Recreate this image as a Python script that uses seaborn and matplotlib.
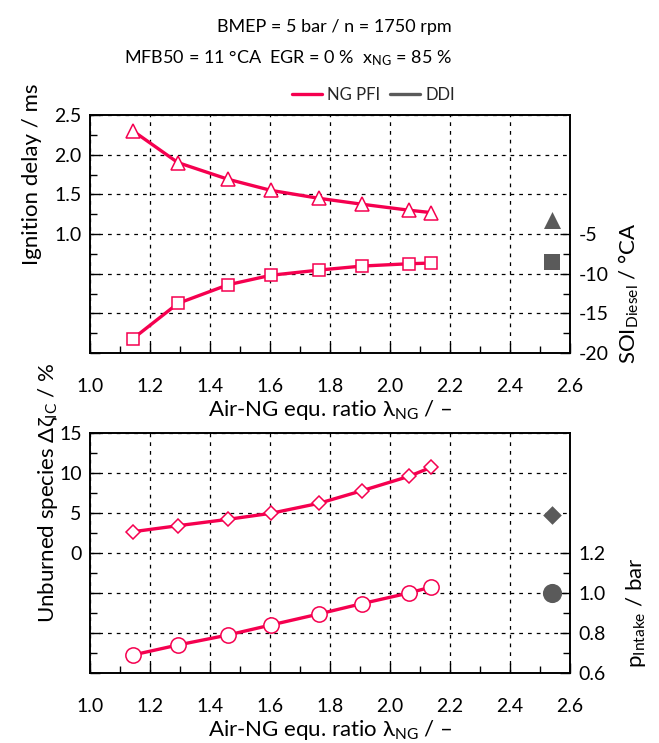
import numpy as np
import pandas as pd
import matplotlib
matplotlib.use("Agg")
import matplotlib.pyplot as plt
import seaborn as sns
from matplotlib.lines import Line2D
from matplotlib.ticker import MultipleLocator, FixedLocator, FuncFormatter

sns.set_theme(style="ticks")
plt.rcParams['font.family'] = ['Lato', 'DejaVu Sans']
plt.rcParams['mathtext.fontset'] = 'custom'
plt.rcParams['mathtext.rm'] = 'Lato'
plt.rcParams['mathtext.it'] = 'Lato:italic'
plt.rcParams['axes.unicode_minus'] = False

# ---------------- data ----------------
lam_ng = [1.143, 1.293, 1.46, 1.603, 1.763, 1.907, 2.063, 2.137]
ign_delay = [2.30, 1.90, 1.69, 1.55, 1.45, 1.375, 1.30, 1.27]
soi_diesel = [-18.2, -13.75, -11.4, -10.2, -9.55, -9.04, -8.75, -8.66]
unburned = [2.66, 3.41, 4.21, 4.96, 6.21, 7.79, 9.58, 10.71]
p_intake = [0.69, 0.74, 0.79, 0.84, 0.895, 0.947, 1.0, 1.03]

ddi_lam = [2.54]
ddi_ign = [1.175]
ddi_soi = [-8.5]
ddi_unb = [4.75]
ddi_p = [1.0]

x_ticks = [1.0, 1.2, 1.4, 1.6, 1.8, 2.0, 2.2, 2.4, 2.6]

RED = '#F5004F'
GRAY = '#5A5A5A'

W, H = 659, 743
fig = plt.figure(figsize=(W / 100, H / 100), dpi=100)

def fx(px):
    return px / W

def fy(py):
    return 1 - py / H

ax1 = fig.add_axes([fx(90), fy(353), fx(570) - fx(90), fy(115) - fy(353)])
ax2 = fig.add_axes([fx(90), fy(673), fx(570) - fx(90), fy(433) - fy(673)])

TFS = 14      # tick labels
LFS = 16      # axis labels

def style_axis(ax, ylim, ymaj, yminor):
    ax.set_xlim(1.0, 2.6)
    ax.set_ylim(*ylim)
    ax.set_xticks(x_ticks)
    ax.set_xticklabels(['%.1f' % v for v in x_ticks])
    ax.xaxis.set_minor_locator(MultipleLocator(0.1))
    ax.yaxis.set_major_locator(MultipleLocator(ymaj))
    ax.yaxis.set_minor_locator(MultipleLocator(yminor))
    ax.grid(True, which='major', color='black', linestyle=(0, (3, 4)), linewidth=0.9)
    ax.tick_params(axis='both', which='both', direction='in', top=False, right=False,
                   color='black', labelsize=TFS, labelcolor='black')
    ax.tick_params(axis='both', which='major', length=7, width=1.0)
    ax.tick_params(axis='both', which='minor', length=5, width=1.0)
    ax.tick_params(axis='x', which='major', pad=18)
    ax.tick_params(axis='y', which='major', pad=6)
    for s in ax.spines.values():
        s.set_color('black')
        s.set_linewidth(1.2)

def style_right(ax, ylim, majors, minors, fmt):
    ax.set_ylim(*ylim)
    ax.yaxis.set_major_locator(FixedLocator(majors))
    ax.yaxis.set_minor_locator(FixedLocator(minors))
    ax.yaxis.set_major_formatter(FuncFormatter(fmt))
    ax.tick_params(axis='y', which='both', direction='in', labelsize=TFS, color='black',
                   labelcolor='black', pad=6)
    ax.tick_params(axis='y', which='major', length=7, width=1.0)
    ax.tick_params(axis='y', which='minor', length=5, width=1.0)
    for s in ax.spines.values():
        s.set_color('black')
        s.set_linewidth(1.2)
    ax.grid(False)

XLABEL = 'Air-NG equ. ratio λ$_\\mathregular{NG}$ / –'

# ---------- top panel ----------
style_axis(ax1, (-0.5, 2.5), 0.5, 0.25)
ax1.yaxis.set_major_formatter(FuncFormatter(
    lambda v, p: '%.1f' % v if 0.99 <= v <= 2.51 else ''))
sns.lineplot(x=lam_ng, y=ign_delay, ax=ax1, color=RED, linewidth=2.4, marker='^',
             markersize=10, markerfacecolor='white', markeredgecolor=RED,
             markeredgewidth=1.1, legend=False)
sns.scatterplot(x=ddi_lam, y=ddi_ign, ax=ax1, color=GRAY, marker='^', s=150,
                edgecolor=GRAY, linewidth=0, legend=False)
ax1.set_xlabel(XLABEL, fontsize=LFS, color='black', labelpad=2)
ax1.set_ylabel('Ignition delay / ms', fontsize=LFS, color='black')
ax1.yaxis.set_label_coords(-0.10, 0.75)

ax1r = ax1.twinx()
style_right(ax1r, (-20, 10), [-20, -15, -10, -5], [-17.5, -12.5, -7.5], lambda v, p: '%g' % v)
sns.lineplot(x=lam_ng, y=soi_diesel, ax=ax1r, color=RED, linewidth=2.4, marker='s',
             markersize=9, markerfacecolor='white', markeredgecolor=RED,
             markeredgewidth=1.1, legend=False)
sns.scatterplot(x=ddi_lam, y=ddi_soi, ax=ax1r, color=GRAY, marker='s', s=120,
                edgecolor=GRAY, linewidth=0, legend=False)
ax1r.set_ylabel('SOI$_\\mathregular{Diesel}$ / °CA', fontsize=LFS, color='black')
ax1r.yaxis.set_label_coords(1.098, 0.25)

# ---------- bottom panel ----------
style_axis(ax2, (-15, 15), 5, 2.5)
ax2.yaxis.set_major_formatter(FuncFormatter(
    lambda v, p: '%d' % round(v) if -0.01 <= v <= 15.01 else ''))
sns.lineplot(x=lam_ng, y=unburned, ax=ax2, color=RED, linewidth=2.4, marker='D',
             markersize=7.5, markerfacecolor='white', markeredgecolor=RED,
             markeredgewidth=1.1, legend=False)
sns.scatterplot(x=ddi_lam, y=ddi_unb, ax=ax2, color=GRAY, marker='D', s=90,
                edgecolor=GRAY, linewidth=0, legend=False)
ax2.set_xlabel(XLABEL, fontsize=LFS, color='black', labelpad=2)
ax2.set_ylabel('Unburned species Δζ$_\\mathregular{IC}$ / %', fontsize=LFS, color='black')
ax2.yaxis.set_label_coords(-0.062, 0.75)

ax2r = ax2.twinx()
style_right(ax2r, (0.6, 1.8), [0.6, 0.8, 1.0, 1.2], [0.7, 0.9, 1.1], lambda v, p: '%.1f' % v)
sns.lineplot(x=lam_ng, y=p_intake, ax=ax2r, color=RED, linewidth=2.4, marker='o',
             markersize=11, markerfacecolor='white', markeredgecolor=RED,
             markeredgewidth=1.1, legend=False)
sns.scatterplot(x=ddi_lam, y=ddi_p, ax=ax2r, color=GRAY, marker='o', s=190,
                edgecolor=GRAY, linewidth=0, legend=False)
ax2r.set_ylabel('p$_\\mathregular{Intake}$ / bar', fontsize=LFS, color='black')
ax2r.yaxis.set_label_coords(1.113, 0.25)

for a in (ax1, ax2, ax1r, ax2r):
    a.set_xlim(1.0, 2.6)

# ---------- header ----------
fig.text(fx(452), fy(32), 'BMEP = 5 bar / n = 1750 rpm', ha='right', va='baseline',
         fontsize=13, color='black')
fig.text(fx(452), fy(63), 'MFB50 = 11 °CA  EGR = 0 %  x$_\\mathregular{NG}$ = 85 %',
         ha='right', va='baseline', fontsize=13, color='black')

handles = [Line2D([], [], color=RED, linewidth=2.4),
           Line2D([], [], color=GRAY, linewidth=2.4)]
fig.legend(handles, ['NG PFI', 'DDI'], loc='center right',
           bbox_to_anchor=(fx(455), fy(95)), ncol=2, frameon=False,
           fontsize=12, handlelength=1.8, handletextpad=0.3, columnspacing=0.6,
           borderaxespad=0, borderpad=0)

fig.savefig('out.png', dpi=100)
